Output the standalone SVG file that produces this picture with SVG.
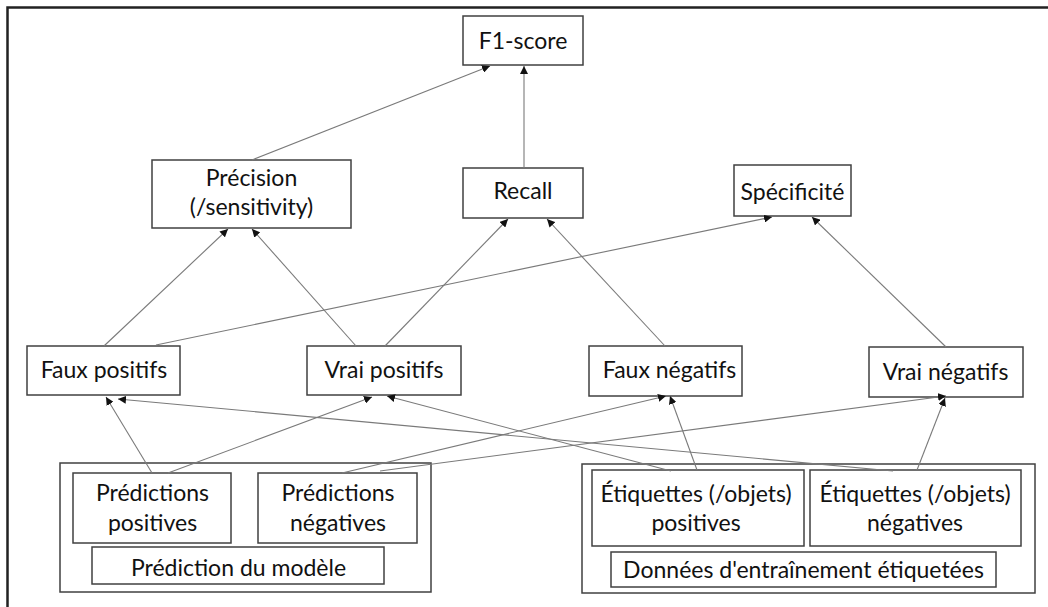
<svg xmlns="http://www.w3.org/2000/svg" width="1048" height="607" viewBox="0 0 1048 607">
<style>
.box{fill:#fff;stroke:#404040;stroke-width:1.5}
.grp{fill:none;stroke:#404040;stroke-width:1.5}
.t{font-family:Lato,"Liberation Sans",sans-serif;font-size:23px;fill:#111;text-anchor:middle}
.c line{stroke:#7a7a7a;stroke-width:1.1;marker-end:url(#ah)}
</style>
<defs>
<marker id="ah" markerUnits="userSpaceOnUse" markerWidth="9" markerHeight="8" refX="8" refY="4" orient="auto">
<path d="M0,0 L8,4 L0,8 z" fill="#111"/>
</marker>
</defs>
<rect width="1048" height="607" fill="#fff"/>
<rect x="7.5" y="7.5" width="1060" height="620" fill="none" stroke="#222" stroke-width="2.5"/>

<g id="grp-prediction">
<rect class="grp" x="60" y="463" width="371" height="129"/>
</g>
<g id="grp-donnees">
<rect class="grp" x="582" y="464" width="453" height="129"/>
</g>

<g id="n-f1"><rect class="box" x="463" y="16" width="120" height="49"/><text class="t" x="523" y="49">F1-score</text></g>
<g id="n-precision"><rect class="box" x="152" y="160" width="199" height="68"/><text class="t" x="251.5" y="186">Précision</text><text class="t" x="251.5" y="215">(/sensitivity)</text></g>
<g id="n-recall"><rect class="box" x="463" y="168" width="120" height="50"/><text class="t" x="523" y="199">Recall</text></g>
<g id="n-specificite"><rect class="box" x="734" y="165" width="117" height="51"/><text class="t" x="792.5" y="200">Spécificité</text></g>
<g id="n-fp"><rect class="box" x="27" y="346" width="153" height="49"/><text class="t" x="104" y="378">Faux positifs</text></g>
<g id="n-vp"><rect class="box" x="307" y="346" width="154" height="49"/><text class="t" x="384" y="378">Vrai positifs</text></g>
<g id="n-fn"><rect class="box" x="589" y="346" width="153" height="50"/><text class="t" x="669.5" y="378">Faux négatifs</text></g>
<g id="n-vn"><rect class="box" x="869" y="347" width="154" height="50"/><text class="t" x="945.5" y="380">Vrai négatifs</text></g>
<g id="n-predpos"><rect class="box" x="73" y="473" width="158" height="70"/><text class="t" x="152.5" y="501">Prédictions</text><text class="t" x="152.5" y="531">positives</text></g>
<g id="n-predneg"><rect class="box" x="258" y="473" width="159" height="70"/><text class="t" x="338" y="501">Prédictions</text><text class="t" x="338" y="531">négatives</text></g>
<g id="n-predmod"><rect class="box" x="92" y="547" width="292" height="37"/><text class="t" x="238.5" y="576">Prédiction du modèle</text></g>
<g id="n-etipos"><rect class="box" x="592" y="470" width="212" height="76"/><text class="t" x="696" y="502">Étiquettes (/objets)</text><text class="t" x="696" y="531">positives</text></g>
<g id="n-etineg"><rect class="box" x="810" y="470" width="211" height="76"/><text class="t" x="915" y="502">Étiquettes (/objets)</text><text class="t" x="915" y="531">négatives</text></g>
<g id="n-donnees"><rect class="box" x="611" y="552" width="385" height="35"/><text class="t" x="803.5" y="578">Données d'entraînement étiquetées</text></g>

<g id="connectors" class="c">
<line x1="252" y1="160" x2="490" y2="66"/>
<line x1="524" y1="168" x2="524" y2="66"/>
<line x1="104" y1="346" x2="228" y2="229"/>
<line x1="356" y1="346" x2="252" y2="229"/>
<line x1="156" y1="345" x2="772" y2="217"/>
<line x1="385" y1="346" x2="508" y2="219"/>
<line x1="665" y1="346" x2="547" y2="219"/>
<line x1="946" y1="347" x2="812" y2="217"/>
<line x1="152" y1="473" x2="106" y2="397"/>
<line x1="168" y1="473" x2="372" y2="397"/>
<line x1="342" y1="473" x2="666" y2="396"/>
<line x1="380" y1="471" x2="946" y2="396"/>
<line x1="671" y1="471" x2="387" y2="396"/>
<line x1="697" y1="470" x2="670" y2="396"/>
<line x1="893" y1="471" x2="118" y2="399"/>
<line x1="917" y1="470" x2="945" y2="398"/>
</g>
</svg>
